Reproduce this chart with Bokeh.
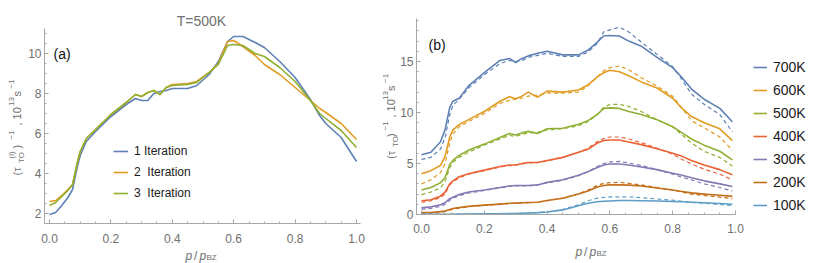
import math
from bokeh.plotting import figure
from bokeh.models import (Label, Legend, LegendItem, SingleIntervalTicker,
                          NumeralTickFormatter, Range1d, LinearAxis)
from bokeh.embed import file_html
from bokeh.resources import INLINE

# ---------------- data: panel (a), T = 500K ----------------
p_a = [0, 0.02, 0.04, 0.06, 0.075, 0.09, 0.1, 0.12, 0.15, 0.2, 0.25, 0.28, 0.3,
       0.32, 0.34, 0.36, 0.38, 0.4, 0.45, 0.48, 0.52, 0.55, 0.58, 0.6, 0.63,
       0.67, 0.7, 0.75, 0.8, 0.85, 0.88, 0.9, 0.95, 1.0]
iter1 = [1.95, 2.05, 2.4, 2.8, 3.2, 4.3, 4.9, 5.6, 6.1, 6.85, 7.45, 7.75, 7.65,
         7.65, 8.0, 8.1, 8.15, 8.25, 8.25, 8.4, 8.95, 9.6, 10.6, 10.85, 10.85,
         10.55, 10.3, 9.6, 8.8, 7.7, 6.9, 6.5, 5.8, 4.6]
iter2 = [2.6, 2.65, 2.9, 3.2, 3.45, 4.5, 5.1, 5.75, 6.2, 6.95, 7.55, 7.95, 7.85,
         8.05, 8.15, 7.95, 8.3, 8.45, 8.5, 8.6, 9.05, 9.5, 10.6, 10.65, 10.35,
         9.9, 9.45, 8.95, 8.3, 7.65, 7.25, 7.05, 6.5, 5.7]
iter3 = [2.4, 2.55, 2.85, 3.15, 3.45, 4.5, 5.1, 5.75, 6.2, 6.95, 7.55, 7.95, 7.85,
         8.05, 8.15, 7.95, 8.3, 8.4, 8.45, 8.55, 9.05, 9.45, 10.4, 10.45, 10.4,
         10.0, 9.85, 9.3, 8.6, 7.65, 7.0, 6.75, 6.15, 5.3]
iter_labels = ["1 Iteration", "2  Iteration", "3  Iteration"]

# ---------------- data: panel (b), temperatures ----------------
p_b = [0, 0.03, 0.06, 0.075, 0.09, 0.1, 0.12, 0.15, 0.2, 0.25, 0.28, 0.3, 0.32,
       0.34, 0.37, 0.4, 0.45, 0.5, 0.53, 0.56, 0.58, 0.6, 0.63, 0.66, 0.7, 0.75,
       0.8, 0.83, 0.86, 0.9, 0.95, 0.99]
t700 = [5.85, 6.1, 7.1, 8.3, 10.5, 11.1, 11.4, 12.6, 13.9, 15.1, 15.3, 14.9, 15.3,
        15.55, 15.8, 16.0, 15.65, 15.65, 16.1, 16.9, 17.5, 17.55, 17.5, 17.0, 16.5,
        15.4, 14.4, 13.4, 12.3, 11.3, 10.4, 9.1]
t700d = [5.4, 5.6, 6.4, 7.5, 9.8, 10.7, 11.3, 12.4, 13.7, 14.8, 15.1, 15.0, 15.1,
         15.4, 15.6, 15.8, 15.5, 15.5, 15.9, 16.8, 17.9, 18.1, 18.35, 17.9, 16.9,
         15.7, 14.5, 13.2, 11.8, 10.8, 9.8, 8.1]
t600 = [4.0, 4.3, 4.8, 5.7, 7.6, 8.3, 8.8, 9.3, 10.1, 11.1, 11.55, 11.35, 11.6,
        12.0, 11.5, 12.1, 12.0, 12.2, 12.7, 13.5, 13.9, 14.15, 14.0, 13.6, 13.0,
        12.4, 11.4, 10.4, 9.6, 9.0, 8.4, 7.25]
t600d = [3.0, 3.4, 4.1, 5.0, 7.0, 7.9, 8.6, 9.1, 9.9, 10.9, 11.2, 11.3, 11.4,
         11.6, 11.7, 11.9, 11.9, 12.0, 12.6, 13.5, 14.1, 14.4, 14.55, 14.2, 13.4,
         12.6, 11.6, 10.4, 9.2, 8.5, 7.6, 6.3]
t500 = [2.4, 2.65, 3.1, 3.6, 4.9, 5.3, 5.8, 6.3, 6.9, 7.55, 7.95, 7.8, 8.0,
        8.15, 7.95, 8.4, 8.45, 8.85, 9.2, 9.8, 10.4, 10.45, 10.4, 10.1, 9.8,
        9.3, 8.6, 8.0, 7.4, 6.8, 6.2, 5.35]
t500d = [1.95, 2.2, 2.6, 3.2, 4.6, 5.1, 5.6, 6.1, 6.8, 7.4, 7.75, 7.65, 7.85,
         8.0, 8.05, 8.3, 8.4, 8.7, 9.1, 9.8, 10.5, 10.8, 10.8, 10.6, 10.1,
         9.3, 8.6, 7.8, 7.0, 6.2, 5.6, 4.75]
t400 = [1.35, 1.45, 1.8, 2.2, 3.0, 3.3, 3.7, 4.0, 4.35, 4.7, 4.85, 4.85, 5.0,
        5.1, 5.1, 5.3, 5.6, 6.1, 6.4, 7.0, 7.25, 7.3, 7.3, 7.1, 6.85, 6.45,
        6.0, 5.7, 5.3, 4.85, 4.4, 3.9]
t400d = [1.2, 1.35, 1.65, 2.0, 2.9, 3.2, 3.6, 3.95, 4.3, 4.65, 4.8, 4.85, 4.95,
         5.05, 5.1, 5.25, 5.6, 6.1, 6.5, 7.15, 7.45, 7.6, 7.6, 7.4, 7.05, 6.5,
         5.9, 5.4, 4.95, 4.45, 3.95, 3.4]
t300 = [0.65, 0.75, 0.95, 1.15, 1.55, 1.7, 1.95, 2.2, 2.4, 2.65, 2.8, 2.85, 2.85,
        2.85, 2.9, 3.15, 3.4, 3.85, 4.2, 4.6, 4.85, 4.95, 4.95, 4.85, 4.65, 4.4,
        4.05, 3.85, 3.6, 3.3, 3.0, 2.75]
t300d = [0.5, 0.6, 0.8, 1.0, 1.4, 1.6, 1.85, 2.1, 2.35, 2.6, 2.75, 2.8, 2.8,
         2.8, 2.9, 3.1, 3.35, 3.8, 4.2, 4.7, 5.0, 5.15, 5.2, 5.05, 4.8, 4.4,
         3.95, 3.65, 3.4, 3.0, 2.65, 2.3]
t200 = [0.18, 0.2, 0.28, 0.35, 0.5, 0.58, 0.68, 0.8, 0.92, 1.02, 1.1, 1.12, 1.15,
        1.18, 1.2, 1.38, 1.6, 2.0, 2.3, 2.7, 2.85, 2.9, 2.9, 2.88, 2.8, 2.6,
        2.4, 2.25, 2.12, 2.0, 1.88, 1.78]
t200d = [0.1, 0.13, 0.2, 0.28, 0.42, 0.52, 0.63, 0.76, 0.9, 1.0, 1.07, 1.1, 1.13,
         1.16, 1.2, 1.36, 1.6, 2.02, 2.4, 2.85, 3.05, 3.12, 3.15, 3.05, 2.9, 2.65,
         2.4, 2.2, 2.0, 1.85, 1.7, 1.55]
t100 = [0.02, 0.02, 0.02, 0.03, 0.03, 0.03, 0.04, 0.05, 0.06, 0.08, 0.1, 0.1, 0.12,
        0.14, 0.18, 0.25, 0.45, 0.85, 1.1, 1.25, 1.3, 1.33, 1.37, 1.37, 1.35, 1.32,
        1.28, 1.25, 1.2, 1.15, 1.08, 1.0]
t100d = [0.01, 0.01, 0.01, 0.02, 0.02, 0.02, 0.03, 0.04, 0.05, 0.07, 0.09, 0.1, 0.12,
         0.14, 0.18, 0.25, 0.5, 0.95, 1.35, 1.6, 1.68, 1.72, 1.73, 1.72, 1.65, 1.52,
         1.4, 1.3, 1.2, 1.1, 0.98, 0.88]
temp_labels = ["700K", "600K", "500K", "400K", "300K", "200K", "100K"]
temp_solid = [t700, t600, t500, t400, t300, t200, t100]
temp_dashed = [t700d, t600d, t500d, t400d, t300d, t200d, t100d]

# ---------------- layout constants (window pixels) ----------------
FONT = "Liberation Sans"
PAL = ["#5E81B5", "#E19C24", "#8FB032", "#EB6235", "#8778B3", "#C56E1A", "#5D9EC7"]
AXC = "#a6a6a6"
TXC = "#707070"
W, H = 814, 263
LEFT, TOP = 0, 0                       # canvas origin in the window
RIGHT, BOTTOM = LEFT + W, TOP + H

# panel a scale: px = AX0 + AXU*x, py = AY0 - AYU*(y - AYREF)
AX0, AXU, AY0, AYU, AYREF = 49, 307, 213, 20, 2.0
# panel b scale
BX0, BXU, BY0, BYU, BYREF = 421, 314, 214, 10.2, 0.0


def ax_(px): return (px - AX0) / AXU
def ay_(py): return AYREF + (AY0 - py) / AYU
def bx_(px): return (px - BX0) / BXU
def by_(py): return BYREF + (BY0 - py) / BYU


p = figure(width=W, height=H,
           x_range=Range1d(ax_(LEFT), ax_(RIGHT)),
           y_range=Range1d(ay_(BOTTOM), ay_(TOP)),
           x_axis_location=None, y_axis_location=None, title=None,
           output_backend="svg", toolbar_location=None, min_border=0)
p.extra_x_ranges = {"b": Range1d(bx_(LEFT), bx_(RIGHT))}
p.extra_y_ranges = {"b": Range1d(by_(BOTTOM), by_(TOP))}
p.grid.visible = False
p.outline_line_color = None


def style_axis(ax, stand):
    ax.axis_line_color = AXC
    ax.major_tick_line_color = AXC
    ax.minor_tick_line_color = AXC
    ax.major_tick_in = 4
    ax.major_tick_out = 0
    ax.minor_tick_in = 2
    ax.minor_tick_out = 0
    ax.major_label_text_color = TXC
    ax.major_label_text_font = FONT
    ax.major_label_text_font_size = "12px"
    ax.major_label_standoff = stand


# panel a axes (frame: x 44..360, y 28..223)
xa_ax = LinearAxis(ticker=SingleIntervalTicker(interval=0.2, num_minor_ticks=4),
                   formatter=NumeralTickFormatter(format="0.0"),
                   fixed_location=ay_(223), bounds=(ax_(44), ax_(360)))
ya_ax = LinearAxis(ticker=SingleIntervalTicker(interval=2, num_minor_ticks=4),
                   fixed_location=ax_(44), bounds=(ay_(223), ay_(28)))
style_axis(xa_ax, 10)
style_axis(ya_ax, 3)
p.add_layout(xa_ax, "below")
p.add_layout(ya_ax, "left")

# panel b axes (frame: x 416..735, y 18..214)
xb_ax = LinearAxis(ticker=SingleIntervalTicker(interval=0.2, num_minor_ticks=4),
                   formatter=NumeralTickFormatter(format="0.0"),
                   x_range_name="b", y_range_name="b",
                   fixed_location=by_(214), bounds=(bx_(416), bx_(735)))
yb_ax = LinearAxis(ticker=SingleIntervalTicker(interval=5, num_minor_ticks=5),
                   x_range_name="b", y_range_name="b",
                   fixed_location=bx_(416), bounds=(by_(214), by_(18)))
style_axis(xb_ax, 9)
style_axis(yb_ax, 3)
p.add_layout(xb_ax, "below")
p.add_layout(yb_ax, "left")

# ---------------- panel (a) lines + legend ----------------
rend_a = []
for ys, c in zip([iter1, iter2, iter3], PAL[:3]):
    rend_a.append(p.line(p_a, ys, line_color=c, line_width=1.6, line_join="round"))
leg_a = Legend(items=[LegendItem(label=l, renderers=[r]) for l, r in zip(iter_labels, rend_a)],
               location=(113 - LEFT, BOTTOM - 202), padding=0, margin=0,
               border_line_color=None, background_fill_alpha=0,
               glyph_width=15, glyph_height=18, label_height=18, spacing=3,
               label_standoff=6, label_text_font=FONT, label_text_font_size="12px",
               label_text_color="#1a1a1a")
p.add_layout(leg_a)

# ---------------- panel (b) lines + legend ----------------
rend_b = []
for ys, yd, c in zip(temp_solid, temp_dashed, PAL):
    p.line(p_b, yd, line_color=c, line_width=1.2, line_dash="4 3",
           x_range_name="b", y_range_name="b")
    rend_b.append(p.line(p_b, ys, line_color=c, line_width=1.6, line_join="round",
                         x_range_name="b", y_range_name="b"))
leg_b = Legend(items=[LegendItem(label=l, renderers=[r]) for l, r in zip(temp_labels, rend_b)],
               location=(753 - LEFT, BOTTOM - 215), padding=0, margin=0,
               border_line_color=None, background_fill_alpha=0,
               glyph_width=14, glyph_height=20, label_height=20, spacing=3,
               label_standoff=6, label_text_font=FONT, label_text_font_size="14px",
               label_text_color="#1a1a1a")
p.add_layout(leg_b)


# ---------------- texts ----------------
def put(px, py, text, size, color=TXC, align="left", baseline="middle",
        angle=0.0, style="normal"):
    p.add_layout(Label(x=ax_(px), y=ay_(py), text=text, text_font=FONT,
                       text_font_size=f"{size}px", text_align=align,
                       text_baseline=baseline, angle=angle, text_color=color,
                       text_font_style=style))


R = math.pi / 2
put(201, 20, "T=500K", 14, align="center")
put(53, 53, "(a)", 14, color="#111111")
put(428, 44, "(b)", 14, color="#111111")

# y label, panel a
put(16, 175, "(τ", 11, angle=R)
put(20.5, 162.5, "TO", 8, angle=R)
put(11, 158, "(i)", 8, angle=R)
put(16, 148, ")", 11, angle=R)
put(11, 139, "−1", 8, angle=R)
put(16, 125, ", 10", 11, angle=R)
put(11, 105.5, "13", 8, angle=R)
put(16, 96, "s", 11, angle=R)
put(11, 88, "−1", 8, angle=R)
# y label, panel b
put(390, 158.5, "(τ", 11, angle=R)
put(394.5, 146.5, "TO", 8, angle=R)
put(390, 136.5, ")", 11, angle=R)
put(385, 130, "−1", 8, angle=R)
put(390, 117, ", 10", 11, angle=R)
put(385, 99.5, "13", 8, angle=R)
put(390, 90.5, "s", 11, angle=R)
put(385, 82.5, "−1", 8, angle=R)

# x labels
for dx, dy in [(0, 255), (390, 251)]:
    put(185 + dx, dy, "p", 12, baseline="alphabetic", style="italic")
    put(193.5 + dx, dy, "/", 12, baseline="alphabetic")
    put(199 + dx, dy, "p", 12, baseline="alphabetic", style="italic")
    put(206 + dx, dy + 2, "BZ", 8, baseline="alphabetic")

open("out.html", "w").write(file_html(p, INLINE))
